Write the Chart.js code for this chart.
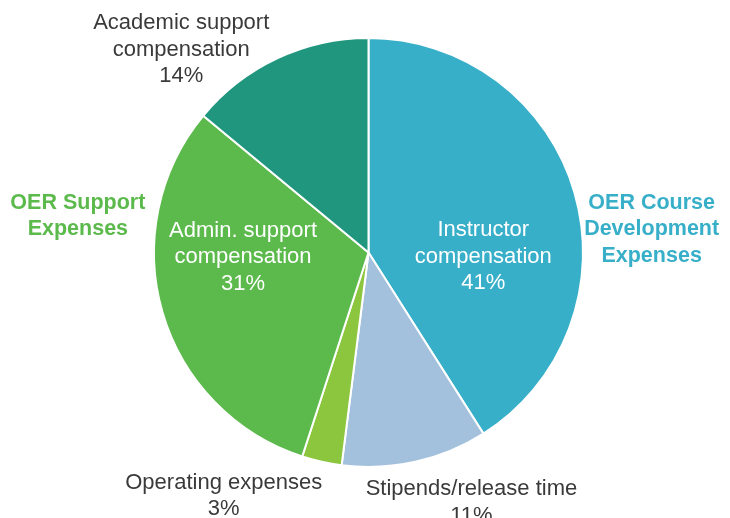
<!DOCTYPE html>
<html>
<head>
<meta charset="utf-8">
<script src="https://cdn.jsdelivr.net/npm/chart.js@4/dist/chart.umd.min.js"></script>
<style>
  html, body { margin: 0; padding: 0; background: #ffffff; }
  #wrap { width: 730px; height: 518px; }
</style>
</head>
<body>
<div id="wrap"><canvas id="c" width="730" height="518"></canvas></div>
<script>
// ---- data ----
const categories = [
  "Instructor compensation",
  "Stipends/release time",
  "Operating expenses",
  "Admin. support compensation",
  "Academic support compensation"
];
const values = [41, 11, 3, 31, 14];
const sliceColors = ["#38AFC9", "#A3C0DC", "#8CC63F", "#5BBA4B", "#20967E"];
// label lines per slice (text only)
const sliceLabelLines = [
  ["Instructor", "compensation", "41%"],
  ["Stipends/release time", "11%"],
  ["Operating expenses", "3%"],
  ["Admin. support", "compensation", "31%"],
  ["Academic support", "compensation", "14%"]
];
const groupLabels = [
  { lines: ["OER Support", "Expenses"], color: "#5BBA4B" },
  { lines: ["OER Course", "Development", "Expenses"], color: "#38AFC9" }
];

// ---- layout (fractions of radius from pie centre) ----
const sliceLabelPos = [
  { dx: 0.535, dy: 0.02, inside: true },
  { dx: 0.48, dy: 1.165, inside: false },
  { dx: -0.675, dy: 1.135, inside: false },
  { dx: -0.585, dy: 0.022, inside: true },
  { dx: -0.873, dy: -0.945, inside: false }
];
const groupLabelPos = [
  { dx: -1.355, dy: -0.17 },
  { dx: 1.32, dy: -0.108 }
];

const labelPlugin = {
  id: 'labels',
  afterDraw(chart) {
    const ctx = chart.ctx;
    const arc = chart.getDatasetMeta(0).data[0];
    const cx = arc.x, cy = arc.y, r = arc.outerRadius;
    const lh = 26.5;
    ctx.save();
    ctx.textAlign = 'center';
    ctx.textBaseline = 'middle';
    ctx.font = '22px "Liberation Sans", Arial, sans-serif';
    sliceLabelLines.forEach((lines, i) => {
      const p = sliceLabelPos[i];
      const x = cx + p.dx * r, y = cy + p.dy * r;
      ctx.fillStyle = p.inside ? '#ffffff' : '#3a3a3a';
      const y0 = y - (lines.length - 1) * lh / 2;
      lines.forEach((t, k) => ctx.fillText(t, x, y0 + k * lh));
    });
    ctx.font = 'bold 21.5px "Liberation Sans", Arial, sans-serif';
    groupLabels.forEach((g, i) => {
      const p = groupLabelPos[i];
      const x = cx + p.dx * r, y = cy + p.dy * r;
      ctx.fillStyle = g.color;
      const y0 = y - (g.lines.length - 1) * lh / 2;
      g.lines.forEach((t, k) => ctx.fillText(t, x, y0 + k * lh));
    });
    ctx.restore();
  }
};

new Chart(document.getElementById('c'), {
  type: 'pie',
  data: {
    labels: categories,
    datasets: [{
      data: values,
      backgroundColor: sliceColors,
      borderColor: '#ffffff',
      borderWidth: 2
    }]
  },
  options: {
    responsive: false,
    animation: false,
    layout: { padding: { top: 37, bottom: 50, left: 7, right: 0 } },
    plugins: { legend: { display: false }, tooltip: { enabled: false } }
  },
  plugins: [labelPlugin]
});
</script>
</body>
</html>
